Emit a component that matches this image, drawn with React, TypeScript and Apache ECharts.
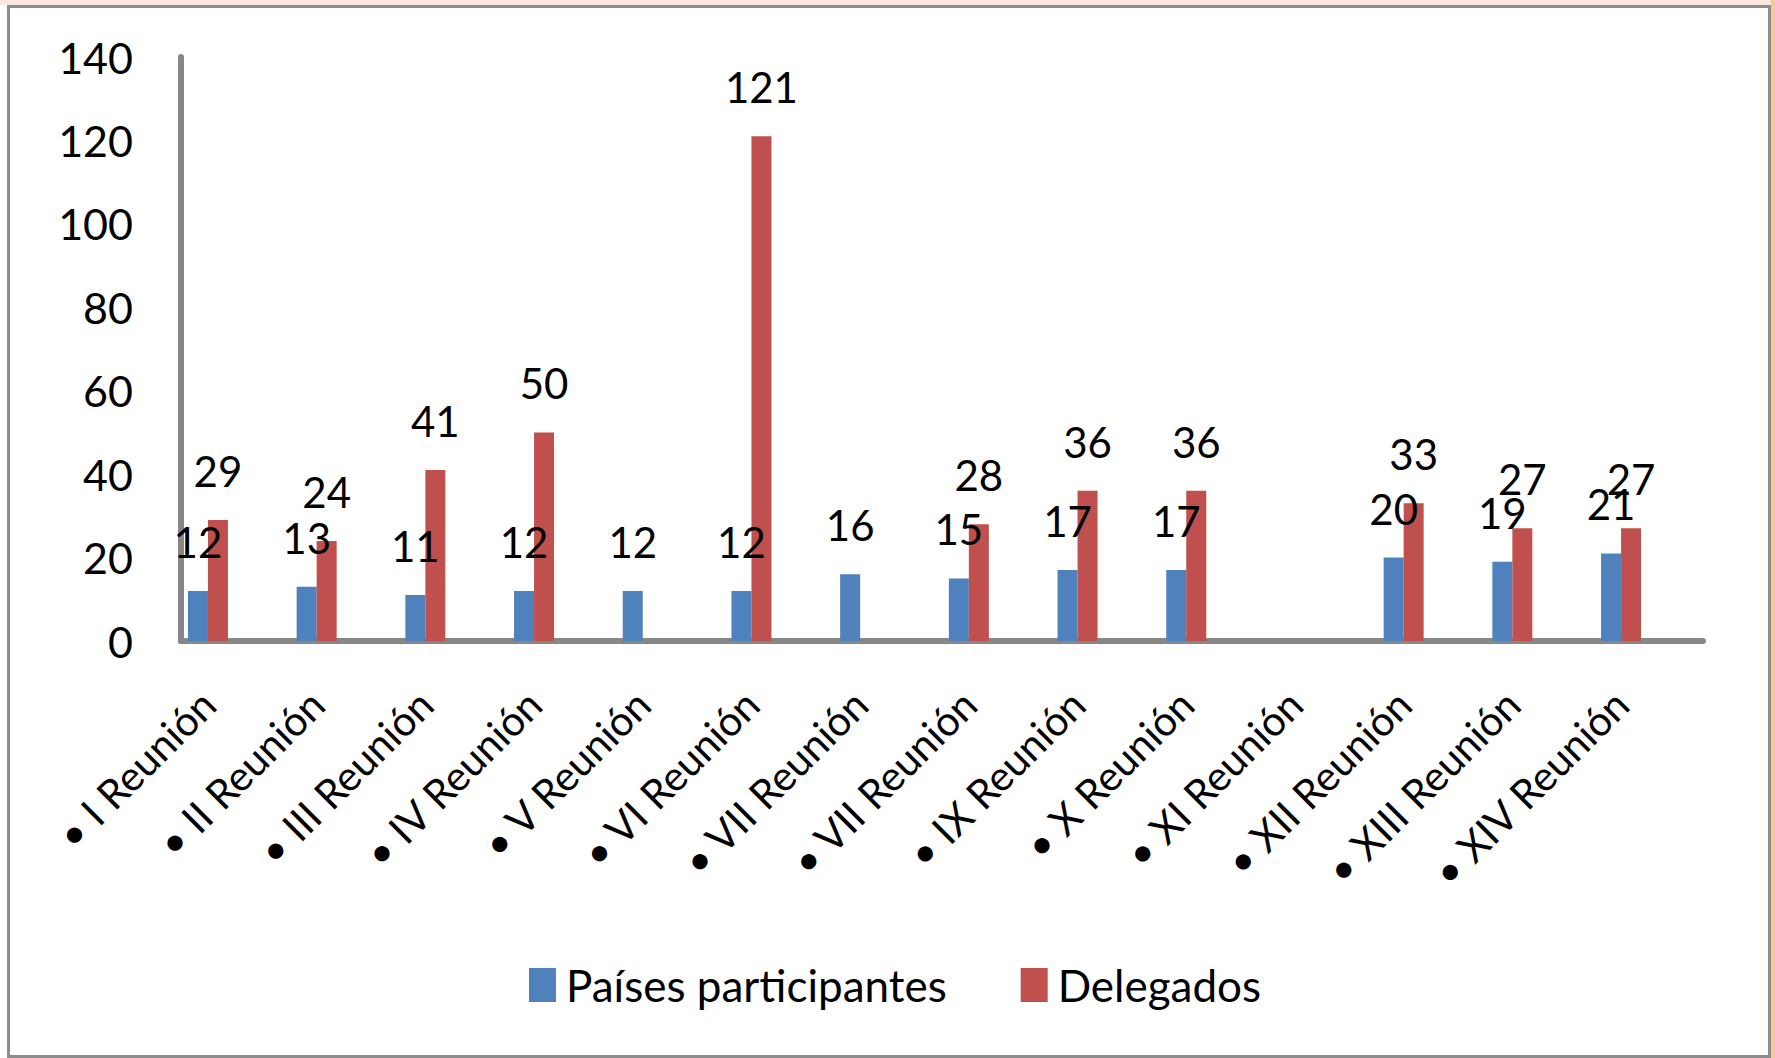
import React, { useEffect, useRef } from "react";
import * as echarts from "echarts";

const categories = [
  "• I Reunión",
  "• II Reunión",
  "• III Reunión",
  "• IV Reunión",
  "• V Reunión",
  "• VI Reunión",
  "• VII Reunión",
  "• VII Reunión",
  "• IX Reunión",
  "• X Reunión",
  "• XI Reunión",
  "• XII Reunión",
  "• XIII Reunión",
  "• XIV Reunión",
];
const paises: (number | null)[] = [12, 13, 11, 12, 12, 12, 16, 15, 17, 17, null, 20, 19, 21];
const delegados: (number | null)[] = [29, 24, 41, 50, null, 121, null, 28, 36, 36, null, 33, 27, 27];
const yTicks = { min: 0, max: 140, interval: 20 };
const seriesNames = ["Países participantes", "Delegados"];

const FONT = "Lato, 'Noto Sans', sans-serif";
const BLUE = "#4F81BD";
const RED = "#C0504D";
const AXIS = "#878787";

export default function App() {
  const ref = useRef<HTMLDivElement>(null);
  useEffect(() => {
    if (!ref.current) return;
    const chart = echarts.init(ref.current, undefined, { renderer: "svg" });
    const label = {
      show: true,
      position: "top" as const,
      distance: 28,
      fontSize: 42,
      color: "#000",
      fontFamily: FONT,
    };
    chart.setOption({
      animation: false,
      backgroundColor: "#ffffff",
      textStyle: { fontFamily: FONT },
      graphic: [
        { type: "rect", z: -10, shape: { x: 0, y: 0, width: 1775, height: 5 }, style: { fill: "#fbe7de" } },
        { type: "rect", z: -10, shape: { x: 1771, y: 0, width: 4, height: 1058 }, style: { fill: "#f7c596" } },
        {
          type: "rect",
          z: -5,
          shape: { x: 8.5, y: 6.5, width: 1761, height: 1050 },
          style: { fill: "none", stroke: "#8c8c8c", lineWidth: 3 },
        },
      ],
      legend: {
        data: seriesNames,
        left: 524,
        top: 958,
        itemWidth: 27,
        itemHeight: 34,
        itemGap: 74,
        icon: "rect",
        textStyle: { fontSize: 44, color: "#000", fontFamily: FONT, padding: [0, 0, 0, 5] },
      },
      grid: [
        { left: 153.6, right: 99.6, top: 57, bottom: 417 },
        { left: 181, right: 72, top: 57, bottom: 417 },
      ],
      xAxis: [
        {
          type: "category",
          gridIndex: 0,
          data: categories,
          axisLine: { show: false },
          axisTick: { show: false },
          axisLabel: {
            rotate: 45,
            interval: 0,
            margin: 56,
            fontSize: 41,
            color: "#000",
            fontFamily: FONT,
          },
        },
        {
          type: "category",
          gridIndex: 1,
          data: categories,
          axisLine: { show: true, lineStyle: { color: AXIS, width: 6 } },
          axisTick: { show: false },
          axisLabel: { show: false },
        },
      ],
      yAxis: [
        { type: "value", gridIndex: 0, min: yTicks.min, max: yTicks.max, interval: yTicks.interval, show: false },
        {
          type: "value",
          gridIndex: 1,
          min: yTicks.min,
          max: yTicks.max,
          interval: yTicks.interval,
          axisLine: { show: true, lineStyle: { color: AXIS, width: 6 } },
          axisTick: { show: false },
          splitLine: { show: false },
          axisLabel: { fontSize: 43, color: "#000", margin: 48, fontFamily: FONT },
        },
      ],
      series: [
        {
          name: seriesNames[0],
          type: "bar",
          xAxisIndex: 0,
          yAxisIndex: 0,
          data: paises,
          barWidth: 20,
          barGap: "0%",
          itemStyle: { color: BLUE },
          label,
        },
        {
          name: seriesNames[1],
          type: "bar",
          xAxisIndex: 0,
          yAxisIndex: 0,
          data: delegados,
          barWidth: 20,
          barGap: "0%",
          itemStyle: { color: RED },
          label,
        },
      ],
    });
    return () => chart.dispose();
  }, []);
  return (
    <div
      ref={ref}
      style={{ position: "fixed", left: 0, top: 0, width: 1775, height: 1058 }}
    />
  );
}
